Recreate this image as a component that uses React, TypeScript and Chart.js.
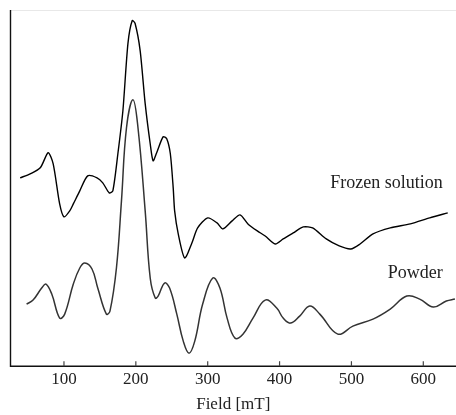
import React, { useEffect, useRef } from "react";
import { Chart, registerables } from "chart.js";

Chart.register(...registerables);

// Field (mT) and signal (arbitrary units)
const frozenField = [39, 53, 67, 78, 85, 94, 100, 108, 113, 122, 133, 146, 154, 163, 168, 175, 182, 189, 195, 199, 206, 213, 220, 224, 229, 238, 243, 248, 252, 254, 259, 268, 278, 286, 300, 313, 321, 334, 345, 356, 369, 380, 394, 405, 419, 433, 446, 465, 483, 499, 512, 530, 554, 582, 609, 634];
const frozenSignal = [188, 192, 198, 213, 202, 162, 149, 155, 162, 175, 190, 188, 183, 173, 175, 212, 255, 322, 345, 342, 315, 262, 222, 205, 213, 229, 227, 212, 178, 155, 132, 108, 123, 138, 148, 143, 137, 145, 151, 142, 135, 130, 122, 127, 133, 139, 138, 127, 120, 117, 122, 132, 138, 142, 148, 153];

const powderField = [48, 57, 69, 75, 83, 94, 101, 113, 122, 129, 139, 147, 159, 164, 173, 180, 187, 196, 203, 213, 220, 227, 231, 240, 247, 257, 266, 274, 282, 293, 307, 317, 327, 338, 349, 363, 380, 396, 405, 415, 428, 442, 456, 481, 502, 530, 554, 577, 595, 614, 632, 644];
const powderSignal = [62, 66, 78, 82, 72, 48, 52, 82, 98, 103, 97, 78, 52, 55, 98, 165, 238, 266, 238, 155, 88, 68, 70, 83, 78, 52, 25, 13, 25, 62, 88, 78, 48, 28, 32, 48, 66, 58, 48, 43, 50, 60, 52, 32, 40, 47, 57, 70, 67, 59, 65, 67];

const xTicks = [100, 200, 300, 400, 500, 600];
const xTitle = "Field [mT]";

const seriesLabels = ["Frozen solution", "Powder"];
const labelField = [627, 627];
const labelSignal = [183, 93];

const SERIF = "'Liberation Serif', 'Times New Roman', serif";

const framePlugin = {
  id: "frame",
  afterDraw(chart: any) {
    const ctx = chart.ctx;
    const a = chart.chartArea;
    const xs = chart.scales.x;
    const ys = chart.scales.y;
    ctx.save();
    // top faint line
    ctx.strokeStyle = "#e8e8e8";
    ctx.lineWidth = 1;
    ctx.beginPath();
    ctx.moveTo(a.left, a.top + 0.5);
    ctx.lineTo(a.right, a.top + 0.5);
    ctx.stroke();
    // axes
    ctx.strokeStyle = "#111";
    ctx.lineWidth = 1.4;
    ctx.beginPath();
    ctx.moveTo(a.left, a.top);
    ctx.lineTo(a.left, a.bottom);
    ctx.lineTo(a.right, a.bottom);
    ctx.stroke();
    // inward ticks
    ctx.strokeStyle = "#444";
    ctx.lineWidth = 1.2;
    xTicks.forEach((v) => {
      const px = xs.getPixelForValue(v);
      ctx.beginPath();
      ctx.moveTo(px, a.bottom);
      ctx.lineTo(px, a.bottom - 5);
      ctx.stroke();
    });
    // series labels
    ctx.fillStyle = "#222";
    ctx.font = "18px " + SERIF;
    ctx.textAlign = "right";
    ctx.textBaseline = "middle";
    seriesLabels.forEach((t, i) => {
      ctx.fillText(t, xs.getPixelForValue(labelField[i]), ys.getPixelForValue(labelSignal[i]));
    });
    ctx.restore();
  },
};

export default function App() {
  const ref = useRef<HTMLCanvasElement | null>(null);
  useEffect(() => {
    if (!ref.current) return;
    const chart = new Chart(ref.current, {
      type: "line",
      data: {
        datasets: [
          {
            label: seriesLabels[0],
            data: frozenField.map((x, i) => ({ x, y: frozenSignal[i] })),
            borderColor: "#000",
            borderWidth: 1.4,
            pointRadius: 0,
            tension: 0.25,
            fill: false,
          },
          {
            label: seriesLabels[1],
            data: powderField.map((x, i) => ({ x, y: powderSignal[i] })),
            borderColor: "#333",
            borderWidth: 1.5,
            pointRadius: 0,
            tension: 0.4,
            fill: false,
          },
        ],
      },
      options: {
        animation: false,
        responsive: false,
        devicePixelRatio: 1,
        layout: { padding: { left: 10.5, top: 10, right: 0, bottom: 0 } },
        plugins: { legend: { display: false }, tooltip: { enabled: false } },
        scales: {
          x: {
            type: "linear",
            min: 25.6,
            max: 645.5,
            afterBuildTicks: (s: any) => {
              s.ticks = xTicks.map((v) => ({ value: v }));
            },
            grid: { display: false, drawTicks: false, tickLength: 0 },
            border: { display: false },
            ticks: {
              padding: 3,
              color: "#222",
              font: { family: SERIF, size: 17 },
              maxRotation: 0,
              autoSkip: false,
            },
            title: {
              display: true,
              text: xTitle,
              color: "#222",
              font: { family: SERIF, size: 17 },
              padding: { top: 2, bottom: 0 },
            },
          },
          y: { type: "linear", display: false, min: 0, max: 355.5 },
        },
      },
      plugins: [framePlugin],
    });
    return () => chart.destroy();
  }, []);
  return (
    <div style={{ position: "absolute", left: 0, top: 0, width: 456, height: 415, background: "#fff" }}>
      <canvas ref={ref} width={456} height={415} style={{ display: "block" }} />
    </div>
  );
}
